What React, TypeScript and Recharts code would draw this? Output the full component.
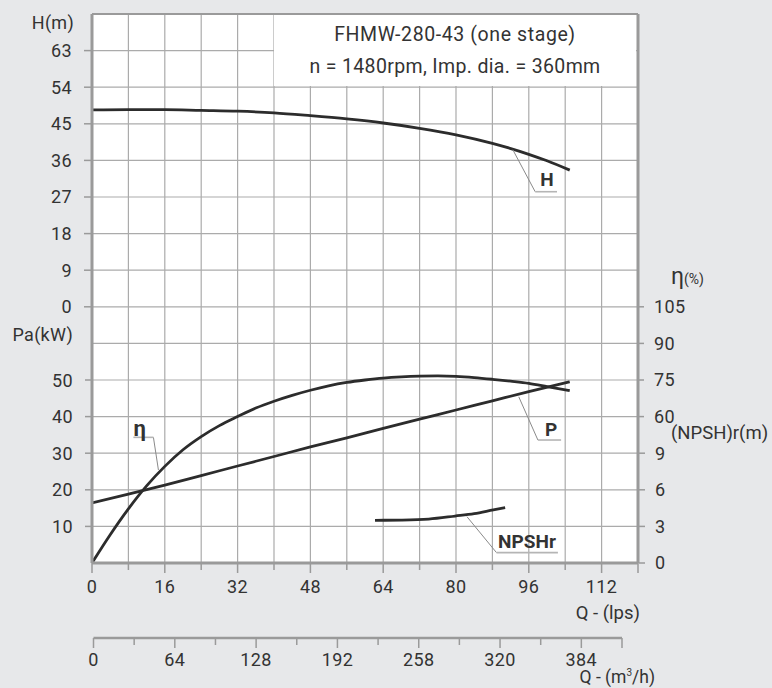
import {
  ComposedChart, Line, XAxis, YAxis, CartesianGrid, ReferenceLine, ReferenceDot,
} from 'recharts'

const ink = '#333333'
const axisGray = '#9a9a9a'
const curve = '#2c2c2c'
const font = 'Roboto, "Noto Sans", sans-serif'

// flow axis (lps) and the second flow scale (m3/h)
const qTicks = [0, 8, 16, 24, 32, 40, 48, 56, 64, 72, 80, 88, 96, 104, 112, 120]
const qLabels = [0, 16, 32, 48, 64, 80, 96, 112]
const m3hTicks = [0, 32, 64, 96, 128, 160, 192, 224, 256, 288, 320, 352, 384, 416]
const m3hMajor = [0, 64, 128, 192, 256, 320, 384]
const m3hLabels = ['0', '64', '128', '192', '258', '320', '384']

// y scales
const headTicks = [0, 9, 18, 27, 36, 45, 54, 63]
const powerGrid = [0, 10, 20, 30, 40, 50, 60, 70, 80, 90, 100, 110, 120, 130, 140, 150]
const powerLabels = [10, 20, 30, 40, 50]
const etaTicks = [60, 75, 90, 105]
const npshTicks = [0, 3, 6, 9]

// H curve
const headQ = [0, 8, 16, 24, 32, 40, 48, 56, 64, 72, 80, 88, 96, 100, 105]
const headM = [48.4, 48.5, 48.5, 48.3, 48.1, 47.7, 47.0, 46.2, 45.2, 43.9, 42.3, 40.2, 37.5, 35.9, 33.6]

// efficiency curve
const etaQ = [0, 4, 8, 12, 16, 20, 24, 28, 32, 36, 40, 44, 48, 52, 56, 60, 64, 68, 72, 76, 80, 84, 88, 92, 96, 100, 105]
const etaPct = [0, 11.6, 22.2, 31.6, 39.6, 46.4, 51.8, 56.3, 60.0, 63.5, 66.3, 68.7, 70.8, 72.6, 74.0, 75.0, 75.8, 76.3, 76.6, 76.7, 76.5, 76.0, 75.3, 74.5, 73.6, 72.3, 70.6]

// shaft power
const powerQ = [0, 8, 16, 24, 32, 40, 48, 56, 64, 72, 80, 88, 96, 105]
const powerKw = [16.4, 18.8, 21.3, 23.9, 26.5, 29.1, 31.7, 34.2, 36.8, 39.3, 41.8, 44.3, 46.8, 49.5]

// NPSHr
const npshQ = [62.2, 68, 74, 79.8, 84, 88.2, 90.8]
const npshM = [3.5, 3.52, 3.6, 3.85, 4.05, 4.35, 4.53]

const headData = headQ.map((q, i) => ({ q, v: headM[i] }))
const etaData = etaQ.map((q, i) => ({ q, v: etaPct[i] }))
const powerData = powerQ.map((q, i) => ({ q, v: powerKw[i] }))
const npshData = npshQ.map((q, i) => ({ q, v: npshM[i] }))
const m3hData = m3hTicks.map(m => ({ m }))

function QTick(props: any) {
  const { x, y, payload } = props
  const v = payload.value
  const major = v % 16 === 0 || v === 120
  return (
    <g>
      <line x1={x} x2={x} y1={y} y2={y + (major ? 10 : 7)} stroke={axisGray} strokeWidth={1.5} />
      {qLabels.includes(v) && (
        <text x={x} y={y + 23} textAnchor="middle" dominantBaseline="central" fill={ink} fontSize={18} letterSpacing={0.4}>{v}</text>
      )}
    </g>
  )
}

function M3hTick(props: any) {
  const { x, y, payload } = props
  const v = payload.value
  const idx = m3hMajor.indexOf(v)
  const major = idx >= 0 || v === 416
  return (
    <g>
      <line x1={x} x2={x} y1={y} y2={y + (major ? 10 : 7)} stroke={axisGray} strokeWidth={1.5} />
      {idx >= 0 && (
        <text x={x} y={y + 21} textAnchor="middle" dominantBaseline="central" fill={ink} fontSize={18} letterSpacing={0.4}>{m3hLabels[idx]}</text>
      )}
    </g>
  )
}

function PaTick(props: any) {
  const { x, y, payload } = props
  const v = payload.value
  if (!powerLabels.includes(v)) return <g />
  return (
    <g>
      <line x1={x - 7} x2={x} y1={y} y2={y} stroke={axisGray} strokeWidth={1.5} />
      <text x={x - 19} y={y} textAnchor="end" dominantBaseline="central" fill={ink} fontSize={18} letterSpacing={0.4}>{v}</text>
    </g>
  )
}

function Tag(props: any) {
  const { viewBox, text, size = 19 } = props
  const cx = viewBox.x + viewBox.width / 2
  const cy = viewBox.y + viewBox.height / 2
  return (
    <text x={cx} y={cy} textAnchor="middle" dominantBaseline="central" fill={ink} fontSize={size} fontWeight={700}>
      {text}
    </text>
  )
}

const leader = { stroke: '#8a8a8a', strokeWidth: 1, ifOverflow: 'visible' as const }
const shelf = { stroke: '#b5b5b5', strokeWidth: 1.6, ifOverflow: 'visible' as const }

export default function App() {
  const tickStyle = { fill: ink, fontSize: 18, letterSpacing: 0.4 }
  return (
    <div style={{ position: 'relative', width: 772, height: 688, background: '#e7e8ea', fontFamily: font, color: ink, overflow: 'hidden' }}>
      <style>{'body{margin:0;background:#e7e8ea}'}</style>

      <div style={{ position: 'absolute', left: 0, top: 0 }}>
        <ComposedChart width={772} height={600} margin={{ top: 14, left: 32, right: 74, bottom: 7 }}>
          <CartesianGrid xAxisId="lps" yAxisId="kw" stroke="#ababab" strokeWidth={1.2} fill="#ffffff" />

          <XAxis
            xAxisId="lps" dataKey="q" type="number" domain={[0, 120]} ticks={qTicks} interval={0}
            tick={<QTick />} tickSize={0} tickMargin={0} tickLine={false} height={30}
            axisLine={{ stroke: axisGray, strokeWidth: 3 }} allowDataOverflow
          />
          <YAxis
            yAxisId="kw" type="number" domain={[0, 150]} ticks={powerGrid} interval={0} width={1}
            tick={<PaTick />} tickSize={0} tickMargin={0} tickLine={false}
            axisLine={{ stroke: axisGray, strokeWidth: 3 }} allowDataOverflow
          />
          <YAxis
            yAxisId="m" type="number" domain={[-63, 72]} ticks={headTicks} interval={0} width={59}
            tick={tickStyle} tickSize={7} tickMargin={12} tickLine={{ stroke: axisGray, strokeWidth: 1.5 }}
            axisLine={false} allowDataOverflow
          />
          <YAxis
            yAxisId="eta" orientation="right" type="number" domain={[0, 225]} ticks={etaTicks} interval={0} width={1}
            tick={tickStyle} tickSize={6} tickMargin={10} tickLine={{ stroke: axisGray, strokeWidth: 1.5 }}
            axisLine={{ stroke: axisGray, strokeWidth: 3 }} allowDataOverflow
          />
          <YAxis
            yAxisId="npsh" orientation="right" type="number" domain={[0, 45]} ticks={npshTicks} interval={0} width={59}
            tick={tickStyle} tickSize={6} tickMargin={10} tickLine={{ stroke: axisGray, strokeWidth: 1.5 }}
            axisLine={false} allowDataOverflow
          />

          <ReferenceLine xAxisId="lps" yAxisId="kw" y={150} stroke={axisGray} strokeWidth={2} />

          <Line xAxisId="lps" yAxisId="m" data={headData} dataKey="v" type="monotone" stroke={curve} strokeWidth={2.8} dot={false} isAnimationActive={false} />
          <Line xAxisId="lps" yAxisId="eta" data={etaData} dataKey="v" type="monotone" stroke={curve} strokeWidth={2.8} dot={false} isAnimationActive={false} />
          <Line xAxisId="lps" yAxisId="kw" data={powerData} dataKey="v" type="monotone" stroke={curve} strokeWidth={2.8} dot={false} isAnimationActive={false} />
          <Line xAxisId="lps" yAxisId="npsh" data={npshData} dataKey="v" type="monotone" stroke={curve} strokeWidth={2.8} dot={false} isAnimationActive={false} />

          {/* curve call-outs */}
          <ReferenceLine xAxisId="lps" yAxisId="m" segment={[{ x: 92.5, y: 38.6 }, { x: 97.4, y: 28.3 }]} {...leader} />
          <ReferenceLine xAxisId="lps" yAxisId="m" segment={[{ x: 97.4, y: 28.3 }, { x: 102.2, y: 28.3 }]} {...shelf} />
          <ReferenceDot xAxisId="lps" yAxisId="m" x={100} y={31.2} r={0} fill="none" stroke="none" label={<Tag text="H" />} />

          <ReferenceLine xAxisId="lps" yAxisId="kw" segment={[{ x: 93.8, y: 45.4 }, { x: 98.0, y: 33.6 }]} {...leader} />
          <ReferenceLine xAxisId="lps" yAxisId="kw" segment={[{ x: 98.0, y: 33.6 }, { x: 103.1, y: 33.6 }]} {...shelf} />
          <ReferenceDot xAxisId="lps" yAxisId="kw" x={100.9} y={36.6} r={0} fill="none" stroke="none" label={<Tag text="P" />} />

          <ReferenceLine xAxisId="lps" yAxisId="npsh" segment={[{ x: 82.4, y: 3.8 }, { x: 88.9, y: 0.85 }]} {...leader} />
          <ReferenceLine xAxisId="lps" yAxisId="npsh" segment={[{ x: 88.9, y: 0.85 }, { x: 102.4, y: 0.85 }]} {...shelf} />
          <ReferenceDot xAxisId="lps" yAxisId="npsh" x={95.6} y={1.75} r={0} fill="none" stroke="none" label={<Tag text="NPSHr" />} />

          <ReferenceLine xAxisId="lps" yAxisId="eta" segment={[{ x: 14.6, y: 38.1 }, { x: 13.5, y: 51.5 }]} {...leader} />
          <ReferenceLine xAxisId="lps" yAxisId="eta" segment={[{ x: 13.5, y: 51.5 }, { x: 9.1, y: 51.5 }]} {...shelf} />
          <ReferenceDot xAxisId="lps" yAxisId="eta" x={10.5} y={55.3} r={0} fill="none" stroke="none" label={<Tag text="η" size={22} />} />
        </ComposedChart>
      </div>

      {/* title box */}
      <div style={{ position: 'absolute', left: 274, top: 15, width: 362, height: 71, background: '#fff', textAlign: 'center', fontSize: 19.5, letterSpacing: 0.6 }}>
        <div style={{ position: 'absolute', left: 0, right: 0, top: 8, lineHeight: '24px' }}>FHMW-280-43 (one stage)</div>
        <div style={{ position: 'absolute', left: 0, right: 0, top: 40, lineHeight: '24px', letterSpacing: 0.35 }}>n = 1480rpm, Imp. dia. = 360mm</div>
      </div>

      {/* axis titles */}
      <div style={{ position: 'absolute', right: 772 - 74, top: 12, fontSize: 18, lineHeight: '22px', letterSpacing: 0.3 }}>H(m)</div>
      <div style={{ position: 'absolute', right: 772 - 73, top: 324, fontSize: 18, lineHeight: '22px', letterSpacing: 0.3 }}>Pa(kW)</div>
      <div style={{ position: 'absolute', left: 671, top: 264, lineHeight: '26px', whiteSpace: 'nowrap' }}>
        <span style={{ fontSize: 23 }}>η</span><span style={{ fontSize: 14 }}>(%)</span>
      </div>
      <div style={{ position: 'absolute', left: 671, top: 422, fontSize: 18.5, lineHeight: '22px', whiteSpace: 'nowrap' }}>(NPSH)r(m)</div>
      <div style={{ position: 'absolute', right: 772 - 640, top: 602, fontSize: 18.5, lineHeight: '22px', whiteSpace: 'nowrap' }}>Q - (lps)</div>
      <div style={{ position: 'absolute', right: 772 - 655, top: 667, fontSize: 17.5, lineHeight: '20px', whiteSpace: 'nowrap' }}>
        Q - (m<sup style={{ fontSize: 10, verticalAlign: '7px', lineHeight: 0 }}>3</sup>/h)
      </div>

      {/* second flow scale */}
      <div style={{ position: 'absolute', left: 0, top: 628 }}>
        <ComposedChart width={772} height={60} data={m3hData} margin={{ top: 0, left: 93.5, right: 150, bottom: 0 }}>
          <XAxis
            dataKey="m" type="number" domain={[0, 416]} ticks={m3hTicks} interval={0}
            tick={<M3hTick />} tickSize={0} tickMargin={0} tickLine={false} height={50}
            axisLine={{ stroke: axisGray, strokeWidth: 2.5 }}
          />
          <YAxis hide domain={[0, 1]} />
        </ComposedChart>
      </div>
    </div>
  )
}
